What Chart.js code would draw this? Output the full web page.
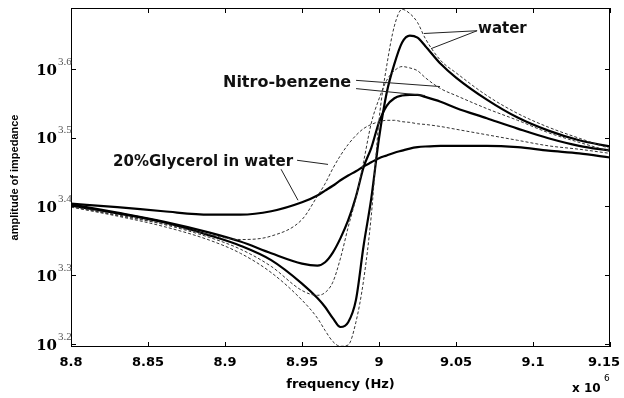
<!DOCTYPE html>
<html>
<head>
<meta charset="utf-8">
<script src="https://cdn.jsdelivr.net/npm/chart.js@4.4.1/dist/chart.umd.min.js"></script>
<style>
  html, body { margin: 0; padding: 0; background: #fff; }
  #c { display: block; }
</style>
</head>
<body>
<canvas id="c" width="624" height="398"></canvas>
<script>
// frequency in units of 10^6 Hz
const freq = [8.80, 8.83, 8.86, 8.89, 8.91, 8.93, 8.95, 8.96, 8.965, 8.97, 8.975, 8.98, 8.985, 8.99, 8.995,
  9.00, 9.005, 9.01, 9.015, 9.02, 9.025, 9.03, 9.04, 9.05, 9.07, 9.09, 9.11, 9.13, 9.15];

// log10 of impedance amplitude
const waterSolid = [3.401, 3.390, 3.377, 3.358, 3.343, 3.322, 3.288, 3.267, 3.254, 3.238, 3.225, 3.232, 3.264, 3.343, 3.412,
  3.499, 3.565, 3.607, 3.638, 3.648, 3.645, 3.633, 3.607, 3.587, 3.555, 3.529, 3.510, 3.496, 3.487];
const waterDashed = [3.399, 3.386, 3.371, 3.351, 3.332, 3.304, 3.264, 3.238, 3.220, 3.204, 3.197, 3.199, 3.232, 3.293, 3.387,
  3.525, 3.604, 3.662, 3.686, 3.680, 3.667, 3.644, 3.612, 3.594, 3.561, 3.535, 3.515, 3.499, 3.484];
const nitroSolid = [3.403, 3.391, 3.378, 3.362, 3.349, 3.332, 3.317, 3.314, 3.319, 3.333, 3.354, 3.380, 3.414, 3.457, 3.485,
  3.522, 3.546, 3.557, 3.561, 3.562, 3.562, 3.559, 3.552, 3.543, 3.528, 3.513, 3.499, 3.488, 3.481];
const nitroDashed = [3.400, 3.387, 3.374, 3.355, 3.338, 3.313, 3.278, 3.271, 3.275, 3.290, 3.325, 3.370, 3.412, 3.465, 3.521,
  3.556, 3.583, 3.597, 3.603, 3.601, 3.597, 3.587, 3.571, 3.561, 3.542, 3.525, 3.507, 3.493, 3.480];
const glycerolSolid = [3.404, 3.399, 3.393, 3.388, 3.388, 3.393, 3.406, 3.416, 3.423, 3.430, 3.438, 3.445, 3.451, 3.458, 3.464,
  3.470, 3.474, 3.478, 3.481, 3.484, 3.486, 3.487, 3.488, 3.488, 3.488, 3.486, 3.481, 3.477, 3.471];
const glycerolDashed = [3.400, 3.388, 3.375, 3.359, 3.352, 3.357, 3.381, 3.415, 3.433, 3.455, 3.474, 3.490, 3.503, 3.513, 3.519,
  3.523, 3.525, 3.525, 3.523, 3.522, 3.520, 3.519, 3.516, 3.512, 3.504, 3.496, 3.488, 3.483, 3.477];

const xTicks = [8.8, 8.85, 8.9, 8.95, 9, 9.05, 9.1, 9.15];
const yTickExps = [3.2, 3.3, 3.4, 3.5, 3.6];

// text callouts: label, font size, anchor [freq, exp], leader lines [[from],[to]]
const notes = [
  { text: 'water', size: 15, at: [9.0643, 3.657],
    leads: [[[9.0637, 3.655], [9.0292, 3.651]], [[9.0637, 3.655], [9.0338, 3.629]]] },
  { text: 'Nitro-benzene', size: 16, at: [8.8987, 3.580],
    leads: [[[8.9851, 3.583], [9.0396, 3.574]], [[8.9851, 3.571], [9.0299, 3.561]]] },
  { text: '20%Glycerol in water', size: 15, at: [8.8273, 3.465],
    leads: [[[8.9468, 3.467], [8.9669, 3.461]], [[8.9364, 3.454], [8.9474, 3.409]]] }
];

function series(vals, dashed) {
  return {
    data: freq.map((f, i) => ({ x: f, y: Math.pow(10, vals[i]) })),
    borderColor: dashed ? '#333' : '#000',
    borderWidth: dashed ? 1 : 2.2,
    borderDash: dashed ? [3, 2] : [],
    pointRadius: 0,
    cubicInterpolationMode: 'monotone',
    fill: false
  };
}

const boxPlugin = {
  id: 'box',
  afterDraw(chart) {
    const { ctx, chartArea: a, scales: { x, y } } = chart;
    ctx.save();
    ctx.strokeStyle = '#000';
    ctx.lineWidth = 1;
    ctx.strokeRect(a.left + 0.5, a.top + 0.5, a.right - a.left - 1, a.bottom - a.top - 1);
    ctx.beginPath();
    xTicks.forEach(v => {
      const px = Math.round(x.getPixelForValue(v)) + 0.5;
      ctx.moveTo(px, a.bottom); ctx.lineTo(px, a.bottom - 5);
      ctx.moveTo(px, a.top); ctx.lineTo(px, a.top + 5);
    });
    yTickExps.forEach(e => {
      const py = Math.round(y.getPixelForValue(Math.pow(10, e))) + 0.5;
      ctx.moveTo(a.left, py); ctx.lineTo(a.left + 5, py);
      ctx.moveTo(a.right, py); ctx.lineTo(a.right - 5, py);
    });
    ctx.stroke();

    // x tick labels, last one kept inside the canvas
    ctx.fillStyle = '#000';
    ctx.font = 'bold 13px "DejaVu Sans"';
    ctx.textAlign = 'center';
    ctx.textBaseline = 'middle';
    xTicks.forEach(v => {
      const label = String(Number(v.toFixed(2)));
      const w = ctx.measureText(label).width;
      const px = Math.min(x.getPixelForValue(v), 620 - w / 2);
      ctx.fillText(label, px, a.bottom + 16);
    });

    // y tick labels as 10^e
    yTickExps.forEach(e => {
      const py = y.getPixelForValue(Math.pow(10, e));
      ctx.fillStyle = '#000';
      ctx.font = 'bold 15px "DejaVu Serif"';
      ctx.textAlign = 'right';
      ctx.textBaseline = 'middle';
      ctx.fillText('10', a.left - 14, py + 2);
      ctx.fillStyle = '#555';
      ctx.font = '11px "Liberation Serif"';
      ctx.textAlign = 'left';
      ctx.fillText(e.toFixed(1), a.left - 13, py - 7);
    });

    // x multiplier
    ctx.fillStyle = '#000';
    ctx.font = 'bold 12px "DejaVu Sans"';
    ctx.textAlign = 'left';
    ctx.textBaseline = 'middle';
    ctx.fillText('x 10', 572, 389);
    ctx.font = '9px "DejaVu Sans"';
    ctx.fillText('6', 604, 379);

    // callouts
    ctx.strokeStyle = '#222';
    ctx.lineWidth = 1;
    notes.forEach(n => {
      ctx.beginPath();
      n.leads.forEach(([p, q]) => {
        ctx.moveTo(x.getPixelForValue(p[0]), y.getPixelForValue(Math.pow(10, p[1])));
        ctx.lineTo(x.getPixelForValue(q[0]), y.getPixelForValue(Math.pow(10, q[1])));
      });
      ctx.stroke();
      ctx.font = 'bold ' + n.size + 'px "DejaVu Sans"';
      ctx.fillStyle = '#111';
      ctx.textAlign = 'left';
      ctx.textBaseline = 'middle';
      ctx.fillText(n.text, x.getPixelForValue(n.at[0]), y.getPixelForValue(Math.pow(10, n.at[1])));
    });
    ctx.restore();
  }
};

new Chart(document.getElementById('c'), {
  type: 'line',
  data: {
    datasets: [
      series(waterDashed, true),
      series(nitroDashed, true),
      series(glycerolDashed, true),
      series(waterSolid, false),
      series(nitroSolid, false),
      series(glycerolSolid, false)
    ]
  },
  plugins: [boxPlugin],
  options: {
    responsive: false,
    animation: false,
    devicePixelRatio: 1,
    layout: { padding: { left: 0, top: 8, right: 14, bottom: 0 } },
    plugins: { legend: { display: false }, tooltip: { enabled: false } },
    scales: {
      x: {
        type: 'linear',
        min: 8.8,
        max: 9.15,
        afterBuildTicks: s => { s.ticks = xTicks.map(v => ({ value: v })); },
        afterFit: s => { s.height = 51; s.paddingLeft = 0; s.paddingRight = 0; },
        grid: { display: false, drawTicks: false },
        border: { display: false },
        ticks: { display: false },
        title: {
          display: true,
          text: 'frequency (Hz)',
          color: '#000',
          font: { family: 'DejaVu Sans', weight: 'bold', size: 13 },
          padding: { top: 0, bottom: 6 }
        }
      },
      y: {
        type: 'logarithmic',
        min: Math.pow(10, 3.196),
        max: Math.pow(10, 3.688),
        afterBuildTicks: s => { s.ticks = yTickExps.map(e => ({ value: Math.pow(10, e) })); },
        afterFit: s => { s.width = 71; s.paddingTop = 0; s.paddingBottom = 0; },
        grid: { display: false, drawTicks: false },
        border: { display: false },
        ticks: { display: false },
        title: {
          display: true,
          text: 'amplitude of impedance',
          color: '#000',
          font: { family: 'Liberation Sans', weight: 'bold', size: 11 },
          padding: { top: 8, bottom: 0 }
        }
      }
    }
  }
});
</script>
</body>
</html>
